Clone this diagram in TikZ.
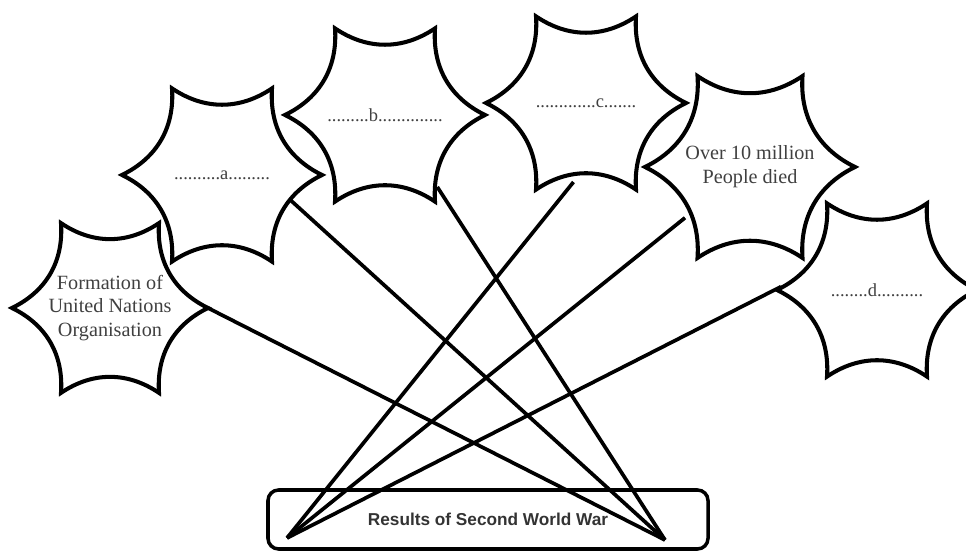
\documentclass[tikz,border=0pt]{standalone}
\usepackage{fontspec}
\setmainfont{Liberation Serif}
\setsansfont{Liberation Sans}
\tikzset{
    % Star outline
    burst line/.style={line width=2.3pt, line join=miter},
    pics/burst/.style={code={
        \draw[burst line] (0:#1) foreach \a in {60,120,...,300} {to[bend left=34] (\a:#1)} to[bend left=34] cycle;
    }},
    % Text styles
    result/.style={font=\fontsize{11.5}{13.5}\selectfont, text=black!75, align=center},
    blank/.style={font=\fontsize{10.5}{12}\selectfont, text=black!75},
    % Box and line styles
    box/.style={rectangle, draw, line width=2pt, rounded corners=6pt, minimum width=8.8cm,
                minimum height=1.18cm, font=\sffamily\bfseries\fontsize{9.8}{11}\selectfont, text=black!80},
    link/.style={line width=2.1pt},
}

\begin{document}
\begin{tikzpicture}
    \useasboundingbox (0,0) rectangle (19.32,11.04);

    % Star texts
    \node[result] (form) at (2.20,4.88) {Formation of\\United Nations\\Organisation};
    \node[blank] (a) at (4.44,7.54) {..........a.........};
    \node[blank] (b) at (7.70,8.74) {.........b..............};
    \node[blank] (c) at (11.72,8.98) {.............c.......};
    \node[result] (over) at (15.00,7.70) {Over 10 million\\People died};
    \node[blank] (d) at (17.54,5.24) {........d..........};

    % Star outlines
    \foreach \n/\r in {form/1.96, a/2, b/2, c/2, over/2.1, d/2} {
        \pic at (\n.center) {burst=\r};
    }

    % Bottom box
    \node[box] (res) at (9.76,0.65) {Results of Second World War};
    \coordinate (res-l) at (5.74,0.28);
    \coordinate (res-r) at (13.30,0.24);

    % Line ends on the stars
    \coordinate (form-in) at ([shift={(0:1.96)}]form.center);
    \coordinate (a-in) at ([shift={(-20:1.45)}]a.center);
    \coordinate (b-in) at ([shift={(-54:1.78)}]b.center);
    \coordinate (c-in) at ([shift={(-99:1.60)}]c.center);
    \coordinate (over-in) at ([shift={(218:1.65)}]over.center);
    \coordinate (d-in) at ([shift={(178:1.92)}]d.center);

    % Lines
    \foreach \s in {form,a,b} \draw[link] (res-r) -- (\s-in);
    \foreach \s in {c,over,d} \draw[link] (res-l) -- (\s-in);
\end{tikzpicture}
\end{document}
